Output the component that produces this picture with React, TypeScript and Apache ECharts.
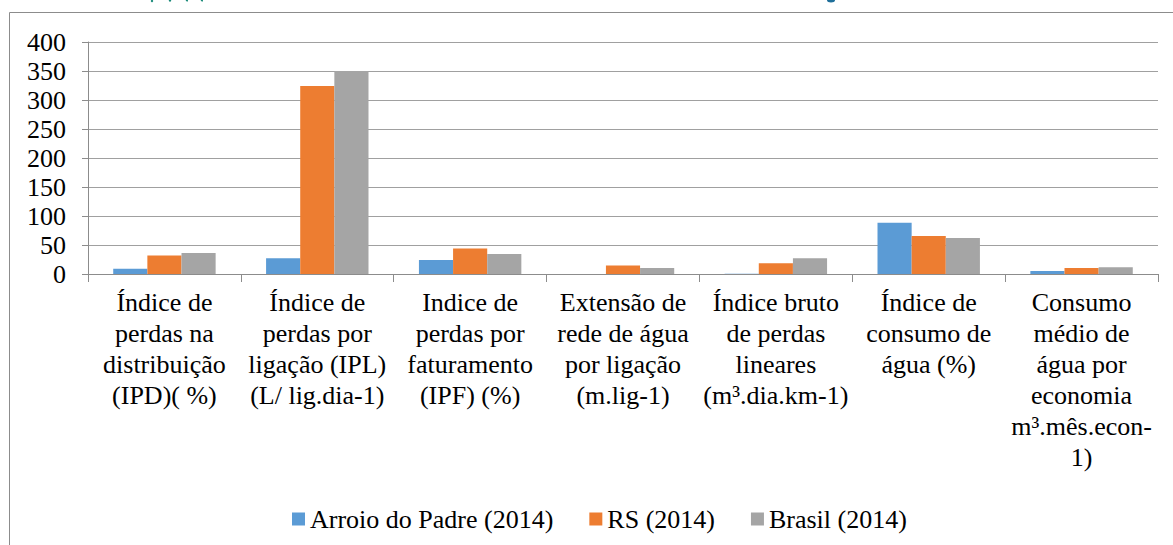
import React, { useEffect, useRef } from "react";
import * as echarts from "echarts";

const categories: string[] = [
  "Índice de\nperdas na\ndistribuição\n(IPD)( %)",
  "Índice de\nperdas por\nligação (IPL)\n(L/ lig.dia-1)",
  "Indice de\nperdas por\nfaturamento\n(IPF) (%)",
  "Extensão de\nrede de água\npor ligação\n(m.lig-1)",
  "Índice bruto\nde perdas\nlineares\n(m³.dia.km-1)",
  "Índice de\nconsumo de\nágua (%)",
  "Consumo\nmédio de\nágua por\neconomia\nm³.mês.econ-\n1)",
];

const seriesNames: string[] = ["Arroio do Padre (2014)", "RS (2014)", "Brasil (2014)"];
const arroioDoPadre: number[] = [9, 27, 24, 0, 0.4, 88.5, 5];
const rs: number[] = [32, 324, 44, 14.5, 18.5, 65.5, 10.5];
const brasil: number[] = [36, 350, 34.5, 10.3, 27, 62, 11.7];
const colors: string[] = ["#5b9bd5", "#ed7d31", "#a5a5a5"];

const FONT = "Liberation Serif";

export default function App() {
  const ref = useRef<HTMLDivElement>(null);
  useEffect(() => {
    if (!ref.current) return;
    const chart = echarts.init(ref.current, undefined, { renderer: "svg" });
    const data = [arroioDoPadre, rs, brasil];
    chart.setOption({
      animation: false,
      backgroundColor: "#ffffff",
      textStyle: { fontFamily: FONT },
      graphic: [
        {
          type: "rect",
          shape: { x: 9.5, y: 12.5, width: 1300, height: 700 },
          style: { fill: "none", stroke: "#8c8c8c", lineWidth: 1 },
          silent: true,
          z: -1,
        },
        { type: "circle", shape: { cx: 152, cy: 1, r: 1.2 }, style: { fill: "#1b8a7a" } },
        { type: "circle", shape: { cx: 170, cy: 0.5, r: 1.2 }, style: { fill: "#1b8a7a" } },
        { type: "circle", shape: { cx: 187, cy: 0.5, r: 1 }, style: { fill: "#1b8a7a" } },
        { type: "circle", shape: { cx: 202, cy: 0.5, r: 1 }, style: { fill: "#1b8a7a" } },
        { type: "ellipse", shape: { cx: 831, cy: 0.5, rx: 4, ry: 2 }, style: { fill: "#1f6f9a" } },
      ],
      legend: {
        data: seriesNames,
        left: 287,
        top: 501,
        itemWidth: 13,
        itemHeight: 13,
        itemGap: 36,
        icon: "rect",
        textStyle: { fontFamily: FONT, fontSize: 26, color: "#000" },
      },
      grid: { left: 88, right: 15, top: 42, bottom: 271, containLabel: false },
      xAxis: {
        type: "category",
        data: categories,
        axisLine: { show: true, lineStyle: { color: "#8c8c8c", width: 1 } },
        axisTick: { show: true, length: 8, lineStyle: { color: "#8c8c8c" } },
        axisLabel: {
          interval: 0,
          margin: 13,
          fontFamily: FONT,
          fontSize: 26,
          lineHeight: 31,
          color: "#000",
          align: "center",
        },
      },
      yAxis: {
        type: "value",
        min: 0,
        max: 400,
        interval: 50,
        axisLine: { show: true, lineStyle: { color: "#8c8c8c", width: 1 } },
        axisTick: { show: true, length: 6, lineStyle: { color: "#8c8c8c" } },
        axisLabel: { margin: 22, fontFamily: FONT, fontSize: 26, color: "#000" },
        splitLine: { show: true, lineStyle: { color: "#a0a0a0", width: 1 } },
      },
      series: seriesNames.map((name, i) => ({
        name,
        type: "bar",
        data: data[i],
        barGap: "0%",
        barCategoryGap: "33%",
        itemStyle: { color: colors[i] },
      })),
    });
    return () => chart.dispose();
  }, []);
  return (
    <div
      ref={ref}
      style={{ position: "fixed", left: 0, top: 0, width: 1173, height: 545, background: "#fff" }}
    />
  );
}
